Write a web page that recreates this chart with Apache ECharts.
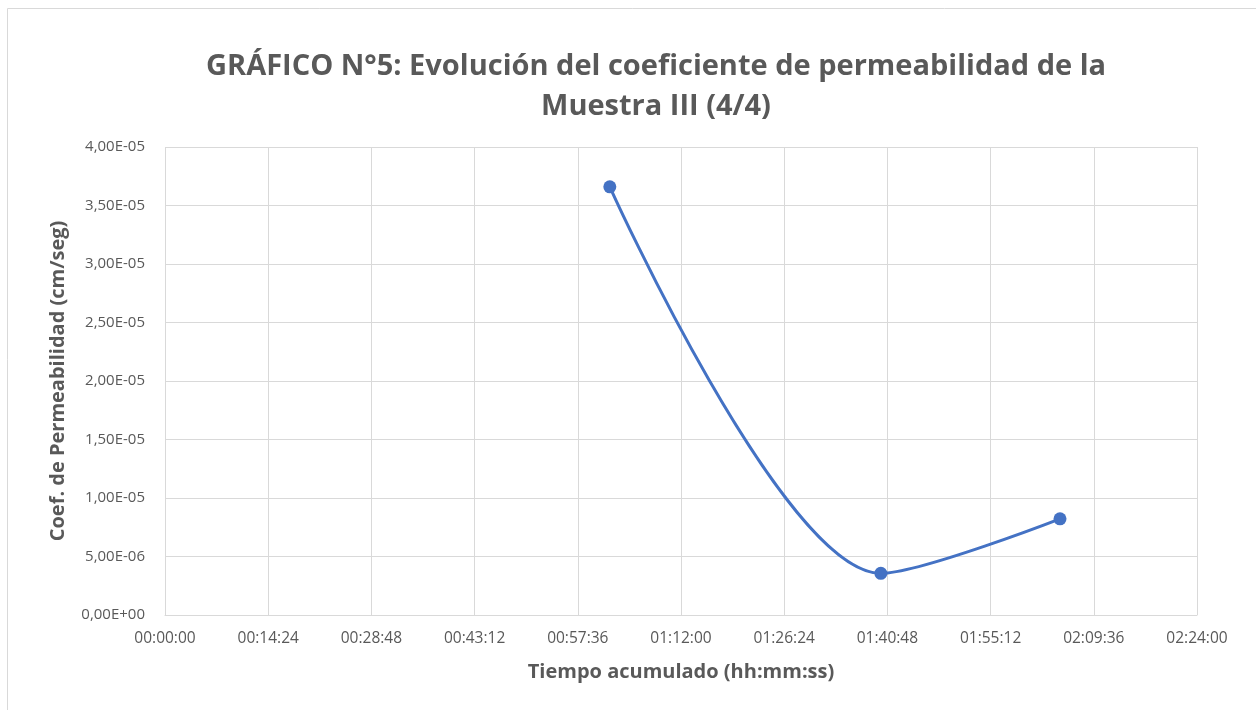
<!DOCTYPE html>
<html>
<head>
<meta charset="utf-8">
<script src="https://cdn.jsdelivr.net/npm/echarts@6/dist/echarts.min.js"></script>
<style>
  html, body { margin: 0; padding: 0; background: #fff; }
  #chart { width: 1256px; height: 710px; }
</style>
</head>
<body>
<div id="chart"></div>
<script>
// tiempo acumulado en segundos
const tiempos = [3724, 5993, 7493]
const coeficientes = [3.66e-5, 3.56e-6, 8.22e-6]
const xTicks = { min: 0, max: 8640, step: 864 }
const yTicks = { min: 0, max: 4e-5, step: 5e-6 }

const fmtTime = s => {
  const h = Math.floor(s / 3600), m = Math.floor((s % 3600) / 60), sec = Math.round(s % 60)
  return [h, m, sec].map(n => String(n).padStart(2, '0')).join(':')
}
const fmtSci = v => {
  const [mant, exp] = v.toExponential(2).split('e')
  const e = parseInt(exp, 10)
  return mant.replace('.', ',') + 'E' + (e < 0 ? '-' : '+') + String(Math.abs(e)).padStart(2, '0')
}

const chart = echarts.init(document.getElementById('chart'))
const grey = '#595959'
const font = '"Open Sans", "Noto Sans", sans-serif'

chart.setOption({
  animation: false,
  textStyle: { fontFamily: font },
  graphic: [{
    type: 'rect', shape: { x: 7.5, y: 8.5, width: 1260, height: 720 },
    style: { fill: 'none', stroke: '#d9d9d9', lineWidth: 1 }, silent: true
  }],
  title: {
    text: 'GRÁFICO N°5: Evolución del coeficiente de permeabilidad de la\nMuestra III (4/4)',
    left: 651, top: 42,
    textAlign: 'center',
    textStyle: { fontSize: 29, fontWeight: 'bold', color: grey, lineHeight: 40, fontFamily: font }
  },
  grid: { left: 165, right: 59, top: 147, bottom: 95 },
  xAxis: {
    type: 'value', min: xTicks.min, max: xTicks.max, interval: xTicks.step,
    name: 'Tiempo acumulado (hh:mm:ss)', nameLocation: 'middle', nameGap: 47,
    nameTextStyle: { fontSize: 20, fontWeight: 'bold', color: grey },
    axisLine: { lineStyle: { color: '#d9d9d9', width: 1 } },
    axisTick: { show: false },
    axisLabel: { formatter: fmtTime, color: grey, fontSize: 15.5, margin: 16 },
    splitLine: { lineStyle: { color: '#d9d9d9', width: 1 } }
  },
  yAxis: {
    type: 'value', min: yTicks.min, max: yTicks.max, interval: yTicks.step,
    name: 'Coef. de Permeabilidad (cm/seg)', nameLocation: 'middle', nameGap: 97,
    nameTextStyle: { fontSize: 20, fontWeight: 'bold', color: grey },
    axisLine: { show: false },
    axisTick: { show: false },
    axisLabel: { formatter: fmtSci, color: grey, fontSize: 15, margin: 20 },
    splitLine: { lineStyle: { color: '#d9d9d9', width: 1 } }
  },
  series: [{
    type: 'line',
    data: tiempos.map((t, i) => [t, coeficientes[i]]),
    smooth: 0.3,
    symbol: 'circle', symbolSize: 13,
    lineStyle: { color: '#4472C4', width: 3 },
    itemStyle: { color: '#4472C4' }
  }]
})
</script>
</body>
</html>
